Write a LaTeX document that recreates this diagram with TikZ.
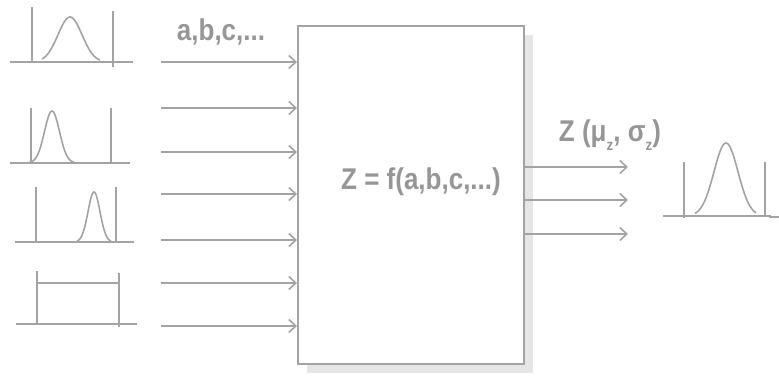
\documentclass[tikz,border=0pt]{standalone}
\usepackage{fontspec}
\usepackage{graphicx}
\setmainfont{Liberation Sans}
\usetikzlibrary{arrows.meta}
\definecolor{linegray}{RGB}{163,163,163}
\definecolor{textgray}{RGB}{150,150,150}
\definecolor{shadowgray}{RGB}{230,230,230}
\newcommand{\tallbox}[1]{\scalebox{1.04}[1.2]{#1}}
\newcommand{\lowsub}[1]{\raisebox{-0.3em}{\fontsize{13}{14}\selectfont #1}}
\tikzset{
  every picture/.style={x=1pt,y=-1pt},
  conn/.style={draw=linegray,line width=2pt,-{Straight Barb[length=7pt,width=13pt,line width=1.6pt]}},
  axis/.style={draw=linegray,line width=1.6pt},
  curve/.style={draw=linegray,line width=1.6pt,line join=round},
  lbl/.style={text=textgray,font=\fontsize{25}{29}\bfseries\selectfont,inner sep=0pt},
}
\begin{document}
\begin{tikzpicture}
\useasboundingbox (0,0) rectangle (779,376);

% function block with drop shadow
\fill[shadowgray] (307,35) rectangle (533,373);
\node[draw=linegray,line width=1.5pt,fill=white,minimum width=226pt,minimum height=338pt,inner sep=0pt,anchor=north west] (box) at (297,25) {};
\node[lbl] (fz) at (421,182) {\tallbox{Z = f(a,b,c,...)}};

% input variables
\node[lbl] (inlbl) at (221,32) {\tallbox{a,b,c,...}};
\foreach \y [count=\i] in {62,108,152,194,240,283,326}{
  \coordinate (in\i) at (161,\y);
  \draw[conn] (in\i) -- (in\i -| box.west);
}

% output
\node[lbl] (outlbl) at (610,135) {\tallbox{Z (μ\lowsub{z}, σ\lowsub{z})}};
\foreach \y [count=\i] in {167,200,234}{
  \coordinate (out\i) at (628,\y);
  \draw[conn] (out\i -| box.east) -- (out\i);
}

% distribution 1: wide normal
\draw[axis] (10,62) -- (133,62);
\draw[axis] (32,7) -- (32,62);
\draw[axis] (113,11) -- (113,67);
\draw[curve] plot[domain=42:100,samples=80] (\x,{62-45*exp(-((\x-70)/12)^2/2)});

% distribution 2: narrow normal, left
\draw[axis] (10,163) -- (130,163);
\draw[axis] (31,108) -- (31,163);
\draw[axis] (111,108) -- (111,163);
\draw[curve] plot[domain=29:75,samples=80] (\x,{163-52*exp(-((\x-52)/7.5)^2/2)});

% distribution 3: narrow normal, right
\draw[axis] (15,242) -- (134,242);
\draw[axis] (36,187) -- (36,242);
\draw[axis] (116,187) -- (116,242);
\draw[curve] plot[domain=77:111,samples=80] (\x,{242-50*exp(-((\x-94)/6)^2/2)});

% distribution 4: uniform
\draw[axis] (16,324) -- (137,324);
\draw[axis] (37,271) -- (37,324);
\draw[axis] (119,273) -- (119,327);
\draw[axis] (37,283) -- (119,283);

% resulting distribution
\draw[axis] (663,216) -- (770,216) -- (770,217) -- (779,217);
\draw[axis] (684,162) -- (684,218);
\draw[axis] (765,162) -- (765,216);
\draw[curve] plot[domain=695:756,samples=80] (\x,{216-73*exp(-((\x-726)/12)^2/2)});
\end{tikzpicture}
\end{document}
